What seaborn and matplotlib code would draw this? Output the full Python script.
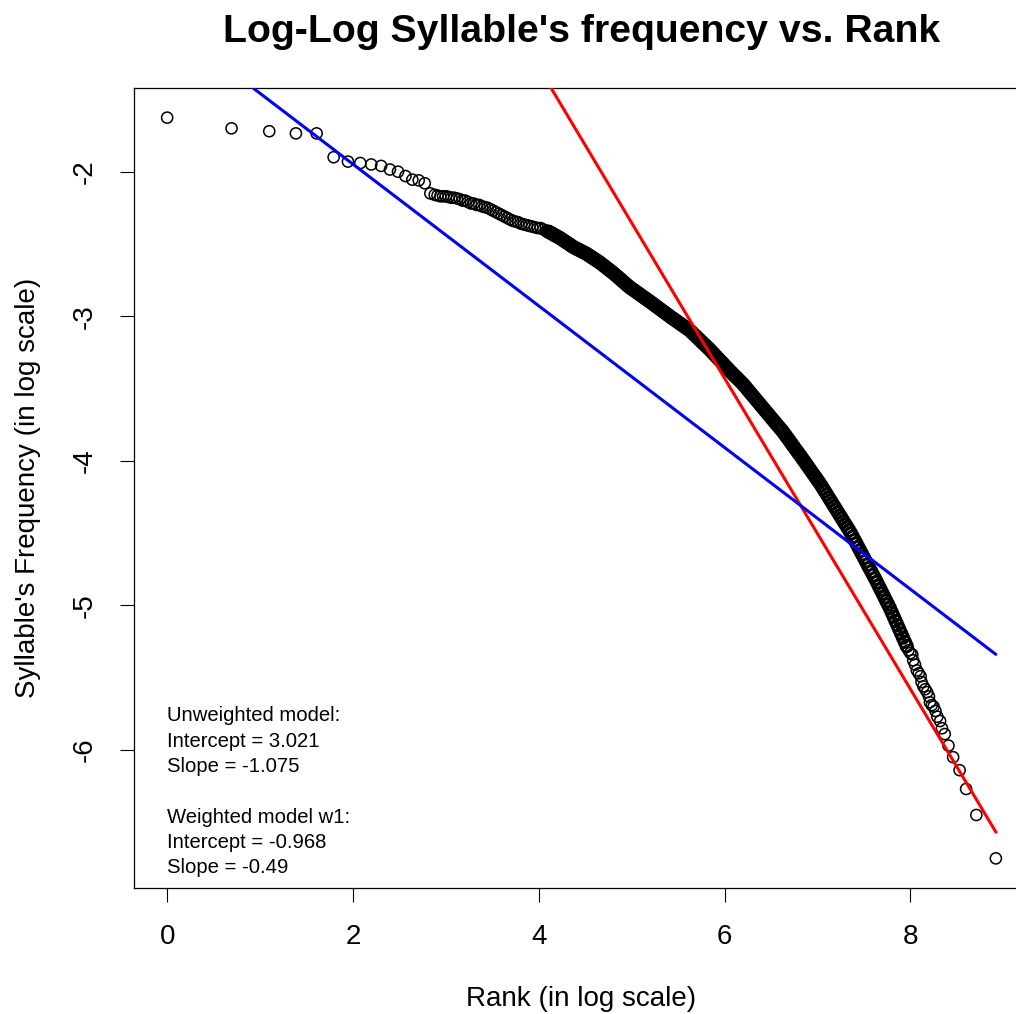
import numpy as np
import matplotlib
matplotlib.use("Agg")
import matplotlib.pyplot as plt
import seaborn as sns

# log(rank) and log(frequency) of the most frequent syllables (one point each)
head_x = [0.0, 0.693, 1.099, 1.386, 1.609, 1.792, 1.946, 2.079, 2.197, 2.303,
          2.398, 2.485, 2.565, 2.639, 2.708, 2.773, 2.833]
head_y = [-1.626, -1.70, -1.72, -1.735, -1.735, -1.90, -1.93, -1.94, -1.95, -1.96,
          -1.985, -2.00, -2.03, -2.055, -2.06, -2.08, -2.15]

# middle ranks, where the circles start to overlap
mid_x = [2.88, 2.91, 2.94, 2.97, 3.00, 3.03, 3.06, 3.09, 3.12, 3.15,
         3.18, 3.21, 3.24, 3.27, 3.30, 3.33, 3.36, 3.39, 3.42, 3.45,
         3.48, 3.51, 3.54, 3.57, 3.60, 3.63, 3.66, 3.69, 3.72, 3.75,
         3.78, 3.81, 3.84, 3.87, 3.90, 3.93, 3.96, 3.99, 4.02, 4.05, 4.08]
mid_y = [-2.16, -2.165, -2.17, -2.17, -2.17, -2.175, -2.18, -2.18, -2.185, -2.19,
         -2.20, -2.20, -2.21, -2.22, -2.22, -2.23, -2.23, -2.24, -2.245, -2.25,
         -2.26, -2.27, -2.28, -2.29, -2.30, -2.31, -2.32, -2.33, -2.34, -2.345,
         -2.35, -2.36, -2.365, -2.37, -2.375, -2.38, -2.385, -2.39, -2.39, -2.40, -2.41]

# dense part of the curve (reads as a solid black band)
band_x = [4.10, 4.12, 4.14, 4.16, 4.18, 4.20, 4.22, 4.24, 4.26, 4.28,
          4.30, 4.32, 4.34, 4.36, 4.38, 4.40, 4.42, 4.44, 4.46, 4.48,
          4.50, 4.52, 4.54, 4.56, 4.58, 4.60, 4.62, 4.64, 4.66, 4.68,
          4.70, 4.72, 4.74, 4.76, 4.78, 4.80, 4.82, 4.84, 4.86, 4.88,
          4.90, 4.92, 4.94, 4.96, 4.98, 5.00, 5.02, 5.04, 5.06, 5.08,
          5.10, 5.12, 5.14, 5.16, 5.18, 5.20, 5.22, 5.24, 5.26, 5.28,
          5.30, 5.32, 5.34, 5.36, 5.38, 5.40, 5.42, 5.44, 5.46, 5.48,
          5.50, 5.52, 5.54, 5.56, 5.58, 5.60, 5.62, 5.64, 5.66, 5.68,
          5.70, 5.72, 5.74, 5.76, 5.78, 5.80, 5.82, 5.84, 5.86, 5.88,
          5.90, 5.92, 5.94, 5.96, 5.98, 6.00, 6.02, 6.04, 6.06, 6.08,
          6.10, 6.12, 6.14, 6.16, 6.18, 6.20, 6.22, 6.24, 6.26, 6.28,
          6.30, 6.32, 6.34, 6.36, 6.38, 6.40, 6.42, 6.44, 6.46, 6.48,
          6.50, 6.52, 6.54, 6.56, 6.58, 6.60, 6.62, 6.64, 6.66, 6.68,
          6.70, 6.72, 6.74, 6.76, 6.78, 6.80, 6.82, 6.84, 6.86, 6.88,
          6.90, 6.92, 6.94, 6.96, 6.98, 7.00, 7.02, 7.04, 7.06, 7.08,
          7.10, 7.12, 7.14, 7.16, 7.18, 7.20, 7.22, 7.24, 7.26, 7.28,
          7.30, 7.32, 7.34, 7.36, 7.38, 7.40, 7.42, 7.44, 7.46, 7.48,
          7.50, 7.52, 7.54, 7.56, 7.58, 7.60, 7.62, 7.64, 7.66, 7.68,
          7.70, 7.72, 7.74, 7.76, 7.78, 7.80, 7.82, 7.84, 7.86, 7.88,
          7.90, 7.92, 7.94, 7.96]
band_y = [-2.414, -2.420, -2.427, -2.435, -2.442, -2.449, -2.456, -2.464, -2.473, -2.481,
          -2.490, -2.498, -2.507, -2.516, -2.523, -2.530, -2.537, -2.543, -2.550, -2.557,
          -2.563, -2.570, -2.579, -2.587, -2.596, -2.604, -2.613, -2.621, -2.630, -2.640,
          -2.650, -2.660, -2.670, -2.680, -2.690, -2.700, -2.711, -2.722, -2.733, -2.744,
          -2.756, -2.767, -2.778, -2.789, -2.800, -2.809, -2.818, -2.827, -2.836, -2.845,
          -2.855, -2.864, -2.873, -2.882, -2.891, -2.900, -2.910, -2.919, -2.929, -2.938,
          -2.948, -2.957, -2.967, -2.976, -2.986, -2.995, -3.005, -3.014, -3.023, -3.032,
          -3.041, -3.050, -3.059, -3.068, -3.077, -3.086, -3.095, -3.106, -3.119, -3.131,
          -3.143, -3.156, -3.168, -3.181, -3.193, -3.205, -3.218, -3.230, -3.244, -3.257,
          -3.271, -3.285, -3.298, -3.312, -3.325, -3.339, -3.353, -3.366, -3.380, -3.393,
          -3.406, -3.419, -3.431, -3.444, -3.457, -3.470, -3.485, -3.501, -3.516, -3.532,
          -3.547, -3.562, -3.578, -3.593, -3.608, -3.624, -3.639, -3.655, -3.670, -3.685,
          -3.701, -3.716, -3.731, -3.747, -3.762, -3.777, -3.792, -3.809, -3.827, -3.844,
          -3.862, -3.880, -3.898, -3.916, -3.933, -3.951, -3.968, -3.987, -4.005, -4.023,
          -4.041, -4.060, -4.078, -4.096, -4.114, -4.133, -4.151, -4.170, -4.191, -4.211,
          -4.232, -4.253, -4.273, -4.294, -4.315, -4.335, -4.356, -4.377, -4.397, -4.418,
          -4.438, -4.459, -4.480, -4.501, -4.525, -4.549, -4.573, -4.598, -4.622, -4.646,
          -4.670, -4.694, -4.719, -4.743, -4.767, -4.791, -4.815, -4.840, -4.866, -4.891,
          -4.917, -4.943, -4.969, -4.994, -5.020, -5.049, -5.078, -5.107, -5.136, -5.165,
          -5.194, -5.223, -5.252, -5.281]

# rare syllables in the tail
tail_x = [7.98, 8.00, 8.02, 8.03, 8.05, 8.07, 8.09, 8.11, 8.12, 8.14,
          8.16, 8.18, 8.20, 8.21, 8.23, 8.25, 8.27, 8.29, 8.32, 8.34,
          8.37, 8.41, 8.46, 8.53, 8.60, 8.71, 8.92]
tail_y = [-5.31, -5.33, -5.34, -5.38, -5.41, -5.45, -5.47, -5.49, -5.53, -5.56,
          -5.58, -5.60, -5.63, -5.67, -5.69, -5.70, -5.73, -5.77, -5.80, -5.85,
          -5.89, -5.97, -6.05, -6.14, -6.27, -6.45, -6.75]

# fitted models
unweighted_intercept, unweighted_slope = 3.021, -1.075
weighted_intercept, weighted_slope = -0.968, -0.49

sparse_x = np.array(head_x + mid_x + tail_x)
sparse_y = np.array(head_y + mid_y + tail_y)
log_rank = np.array(head_x + mid_x + band_x + tail_x)
log_freq = np.array(head_y + mid_y + band_y + tail_y)

sns.set_style("ticks")
plt.rcParams["font.family"] = ["Liberation Sans", "DejaVu Sans"]
plt.rcParams["text.color"] = "black"
plt.rcParams["axes.labelcolor"] = "black"

fig = plt.figure(figsize=(10.16, 10.14), dpi=100)
ax = fig.add_axes([134 / 1016, 1 - 888 / 1014, 895 / 1016, 800 / 1014])

# points (open circles like R's pch=1); the dense band overlaps into solid black
sns.scatterplot(x=sparse_x, y=sparse_y, ax=ax, marker="o", s=64,
                facecolors="none", edgecolor="black", linewidth=1.1, zorder=2)
sns.scatterplot(x=band_x, y=band_y, ax=ax, marker="o", s=70,
                facecolors="none", edgecolor="black", linewidth=1.9, zorder=2)

# fitted lines over the data range
x_line = np.array([log_rank.min(), log_rank.max()])
ax.plot(x_line, unweighted_intercept + unweighted_slope * x_line,
        color="red", linewidth=2.2, zorder=3)
ax.plot(x_line, weighted_intercept + weighted_slope * x_line,
        color="blue", linewidth=2.2, zorder=3)

# R-style 4% padding around the data
xr = log_rank.max() - log_rank.min()
yr = log_freq.max() - log_freq.min()
ax.set_xlim(log_rank.min() - 0.04 * xr, log_rank.max() + 0.04 * xr)
ax.set_ylim(log_freq.min() - 0.04 * yr, log_freq.max() + 0.04 * yr)

ax.set_xticks([0, 2, 4, 6, 8])
ax.set_yticks([-2, -3, -4, -5, -6])
ax.set_yticklabels(["-2", "-3", "-4", "-5", "-6"], rotation=90, va="center")
ax.tick_params(axis="both", direction="out", length=10, width=0.8,
               labelsize=20, pad=16, color="black", labelcolor="black")

for side in ["top", "bottom", "left", "right"]:
    ax.spines[side].set_visible(True)
    ax.spines[side].set_color("black")
    ax.spines[side].set_linewidth(0.9)

ax.set_title("Log-Log Syllable's frequency vs. Rank", fontsize=28.3,
             fontweight="bold", pad=33, color="black")
ax.set_xlabel("Rank (in log scale)", fontsize=20, labelpad=26)
ax.set_ylabel("Syllable's Frequency (in log scale)", fontsize=20, labelpad=22)

# model summary in the lower-left corner
summary = ("Unweighted model:\n"
           f"Intercept = {unweighted_intercept}\n"
           f"Slope = {unweighted_slope}\n"
           "\n"
           "Weighted model w1:\n"
           f"Intercept = {weighted_intercept}\n"
           f"Slope = {weighted_slope}")
ax.text(0.0, -6.29, summary, fontsize=14.6, ha="left", va="center",
        linespacing=1.42, color="black")

fig.savefig("out.png", dpi=100, facecolor="white")
